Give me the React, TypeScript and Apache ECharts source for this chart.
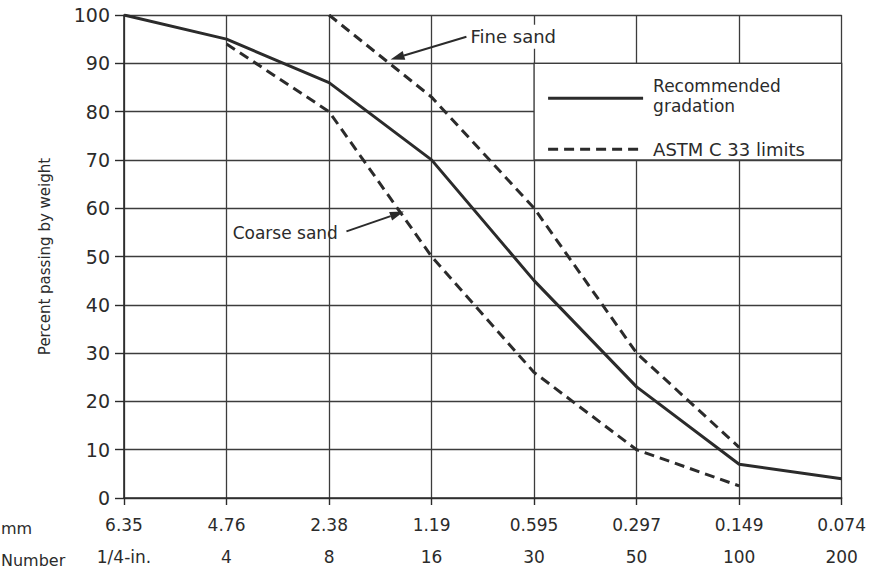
import React, { useEffect, useRef } from "react";
import * as echarts from "echarts";

const mmLabels = ["6.35", "4.76", "2.38", "1.19", "0.595", "0.297", "0.149", "0.074"];
const sieveLabels = ["1/4-in.", "4", "8", "16", "30", "50", "100", "200"];
const recommended = [100, 95, 86, 70, 45, 23, 7, 4];
const fineSand = [null, null, 100, 83, 60, 30, 10.5, null];
const coarseSand = [null, 94, 80, 50, 26, 10, 2.5, null];
const yTicks = [0, 10, 20, 30, 40, 50, 60, 70, 80, 90, 100];

const FONT = "'DejaVu Sans', 'Noto Sans', Roboto, sans-serif";
const INK = "#2b2b2b";
const GRID = "#3c3c3c";

function pairs(arr: (number | null)[]) {
  return arr.map((v, i) => (v == null ? null : [i, v])).filter((p) => p !== null);
}

export default function App() {
  const ref = useRef<HTMLDivElement>(null);
  useEffect(() => {
    if (!ref.current) return;
    const chart = echarts.init(ref.current, null, { renderer: "svg" });
    chart.setOption({
      animation: false,
      backgroundColor: "#ffffff",
      textStyle: { fontFamily: FONT, color: INK },
      grid: { left: 124, right: 24, top: 15, bottom: 69, containLabel: false },
      xAxis: {
        type: "value",
        min: 0,
        max: 7,
        interval: 1,
        axisLine: { show: true, lineStyle: { color: INK, width: 1.6 } },
        axisTick: { show: true, inside: false, length: 7, lineStyle: { color: INK, width: 1.4 } },
        splitLine: { show: true, lineStyle: { color: GRID, width: 1.3 } },
        axisLabel: {
          margin: 11,
          fontSize: 17,
          lineHeight: 32,
          color: INK,
          fontFamily: FONT,
          formatter: (v: number) => `${mmLabels[v] ?? ""}\n${sieveLabels[v] ?? ""}`,
        },
      },
      yAxis: {
        type: "value",
        min: 0,
        max: 100,
        interval: 10,
        name: "Percent passing by weight",
        nameLocation: "middle",
        nameGap: 72,
        nameRotate: 90,
        nameTextStyle: { fontSize: 15, color: INK, fontFamily: FONT },
        axisLine: { show: true, lineStyle: { color: INK, width: 1.6 } },
        axisTick: { show: true, inside: false, length: 9, lineStyle: { color: INK, width: 1.4 } },
        splitLine: { show: true, lineStyle: { color: GRID, width: 1.3 } },
        axisLabel: {
          margin: 14,
          fontSize: 19,
          color: INK,
          fontFamily: FONT,
          formatter: (v: number) => (yTicks.includes(v) ? String(v) : ""),
        },
      },
      series: [
        {
          name: "Recommended gradation",
          type: "line",
          data: pairs(recommended),
          showSymbol: false,
          lineStyle: { color: INK, width: 3 },
          z: 5,
        },
        {
          name: "Fine sand",
          type: "line",
          data: pairs(fineSand),
          showSymbol: false,
          lineStyle: { color: INK, width: 3, type: [10, 6] },
          z: 5,
        },
        {
          name: "Coarse sand",
          type: "line",
          data: pairs(coarseSand),
          showSymbol: false,
          lineStyle: { color: INK, width: 3, type: [10, 6] },
          z: 5,
        },
      ],
    });

    const px = (x: number, y: number) => chart.convertToPixel({ gridIndex: 0 }, [x, y]) as number[];
    const [bx0, by0] = px(4, 90);
    const [bx1, by1] = px(7, 70);

    const arrow = (from: number[], to: number[]) => {
      const dx = to[0] - from[0];
      const dy = to[1] - from[1];
      const len = Math.sqrt(dx * dx + dy * dy);
      const ux = dx / len;
      const uy = dy / len;
      const hl = 14;
      const hw = 4.5;
      const bx = to[0] - ux * hl;
      const by = to[1] - uy * hl;
      return [
        {
          type: "line",
          shape: { x1: from[0], y1: from[1], x2: bx, y2: by },
          style: { stroke: INK, lineWidth: 2 },
          z: 20,
        },
        {
          type: "polygon",
          shape: {
            points: [
              [to[0], to[1]],
              [bx - uy * hw, by + ux * hw],
              [bx + uy * hw, by - ux * hw],
            ],
          },
          style: { fill: INK },
          z: 20,
        },
      ];
    };

    const fineFrom = px(3.34, 95.5);
    const fineTo = px(2.6, 90.8);
    const coarseFrom = px(2.17, 55.2);
    const coarseTo = px(2.73, 59.3);
    const fineText = px(3.38, 95.5);
    const coarseText = px(1.06, 54.8);

    chart.setOption({
      graphic: [
        {
          type: "rect",
          shape: { x: bx0, y: by0, width: bx1 - bx0, height: by1 - by0 },
          style: { fill: "#ffffff", stroke: GRID, lineWidth: 1.3 },
          z: 10,
        },
        {
          type: "line",
          shape: { x1: bx0 + 14, y1: by0 + 35, x2: bx0 + 109, y2: by0 + 35 },
          style: { stroke: INK, lineWidth: 3 },
          z: 11,
        },
        {
          type: "line",
          shape: { x1: bx0 + 14, y1: by0 + 86, x2: bx0 + 109, y2: by0 + 86 },
          style: { stroke: INK, lineWidth: 3, lineDash: [10, 6] },
          z: 11,
        },
        {
          type: "text",
          x: bx0 + 119,
          y: by0 + 33,
          style: {
            text: "Recommended\ngradation",
            font: `17px ${FONT}`,
            fill: INK,
            lineHeight: 20,
            verticalAlign: "middle",
          },
          z: 11,
        },
        {
          type: "text",
          x: bx0 + 119,
          y: by0 + 86,
          style: { text: "ASTM C 33 limits", font: `18px ${FONT}`, fill: INK, verticalAlign: "middle" },
          z: 11,
        },
        {
          type: "rect",
          shape: { x: fineText[0] - 2, y: fineText[1] - 12, width: 96, height: 24 },
          style: { fill: "#ffffff" },
          z: 9,
        },
        {
          type: "text",
          x: fineText[0],
          y: fineText[1],
          style: { text: "Fine sand", font: `18px ${FONT}`, fill: INK, verticalAlign: "middle" },
          z: 21,
        },
        {
          type: "text",
          x: coarseText[0],
          y: coarseText[1],
          style: { text: "Coarse sand", font: `17px ${FONT}`, fill: INK, verticalAlign: "middle" },
          z: 21,
        },
        ...arrow(fineFrom, fineTo),
        ...arrow(coarseFrom, coarseTo),
        {
          type: "text",
          x: 1,
          y: 528,
          style: { text: "mm", font: `16px ${FONT}`, fill: INK, verticalAlign: "middle" },
          z: 21,
        },
        {
          type: "text",
          x: 1,
          y: 560,
          style: { text: "Number", font: `16px ${FONT}`, fill: INK, verticalAlign: "middle" },
          z: 21,
        },
      ],
    });

    return () => chart.dispose();
  }, []);
  return (
    <div
      ref={ref}
      style={{ position: "absolute", left: 0, top: 0, width: 869, height: 573, background: "#fff" }}
    />
  );
}
